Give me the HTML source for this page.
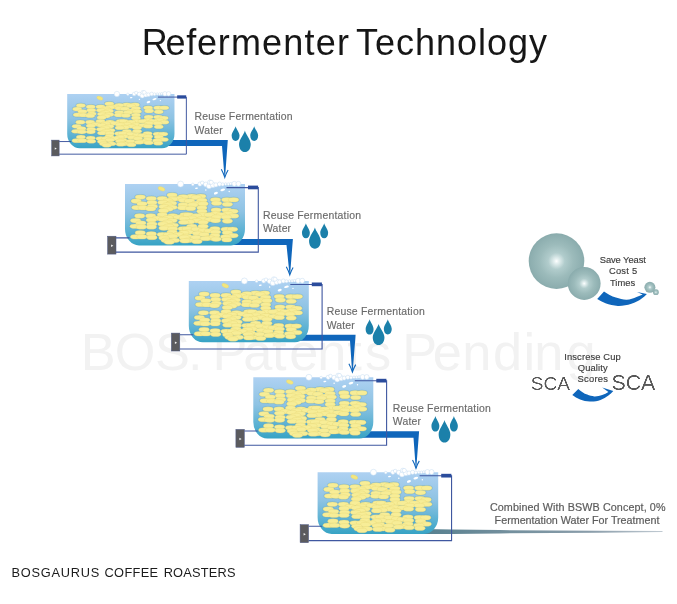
<!DOCTYPE html>
<html lang="en">
<head>
<meta charset="utf-8">
<title>Refermenter Technology</title>
<style>
html,body{margin:0;padding:0;background:#fff;}
body{width:677px;height:604px;overflow:hidden;font-family:"Liberation Sans", sans-serif;}
svg{display:block;}
text{font-family:"Liberation Sans", sans-serif;}
</style>
</head>
<body>
<svg width="677" height="604" viewBox="0 0 677 604">
<defs>
<linearGradient id="gw" x1="0" y1="0" x2="0" y2="1">
<stop offset="0" stop-color="#aed1f2"/>
<stop offset="0.45" stop-color="#8ec3e3"/>
<stop offset="0.8" stop-color="#57b0d1"/>
<stop offset="1" stop-color="#37a3c4"/>
</linearGradient>
<radialGradient id="gb" cx="0.5" cy="0.5" r="0.5">
<stop offset="0" stop-color="#ffffff"/>
<stop offset="0.08" stop-color="#e6f1f1"/>
<stop offset="0.3" stop-color="#b1cccc"/>
<stop offset="0.6" stop-color="#9cbbbb"/>
<stop offset="0.92" stop-color="#8eafb0"/>
<stop offset="1" stop-color="#89abac"/>
</radialGradient>
<linearGradient id="go" x1="0" y1="0" x2="1" y2="0">
<stop offset="0" stop-color="#56808f"/>
<stop offset="0.3" stop-color="#6f8d9b"/>
<stop offset="0.7" stop-color="#8a9daa"/>
<stop offset="1" stop-color="#c0cad2"/>
</linearGradient>
<filter id="thin3" x="-5%" y="-10%" width="110%" height="120%" color-interpolation-filters="sRGB"><feGaussianBlur stdDeviation="0.4"/><feComponentTransfer><feFuncA type="linear" slope="2" intercept="-0.6"/></feComponentTransfer></filter>
<g id="bn">
<ellipse cx="47.1" cy="11.1" rx="5.25" ry="2.28"/>
<ellipse cx="66.8" cy="12.2" rx="5.25" ry="2.28"/>
<ellipse cx="75.8" cy="12.2" rx="5.25" ry="2.28"/>
<ellipse cx="58.2" cy="12.8" rx="5.25" ry="2.28"/>
<ellipse cx="15.3" cy="13.1" rx="5.25" ry="2.28"/>
<ellipse cx="71.3" cy="13.4" rx="5.25" ry="2.28"/>
<ellipse cx="26.3" cy="14.5" rx="5.25" ry="2.28"/>
<ellipse cx="37.3" cy="14.5" rx="5.25" ry="2.28"/>
<ellipse cx="52.9" cy="14.5" rx="5.25" ry="2.28"/>
<ellipse cx="47.7" cy="15.1" rx="5.25" ry="2.28"/>
<ellipse cx="90.5" cy="15.7" rx="5.25" ry="2.28"/>
<ellipse cx="101.8" cy="15.7" rx="5.25" ry="2.28"/>
<ellipse cx="108.6" cy="15.7" rx="5.25" ry="2.28"/>
<ellipse cx="58.7" cy="16.3" rx="5.25" ry="2.28"/>
<ellipse cx="76.9" cy="16.3" rx="5.25" ry="2.28"/>
<ellipse cx="43.1" cy="16.9" rx="5.25" ry="2.28"/>
<ellipse cx="64.5" cy="16.9" rx="5.25" ry="2.28"/>
<ellipse cx="11.2" cy="17.1" rx="5.25" ry="2.28"/>
<ellipse cx="26.9" cy="18.6" rx="5.25" ry="2.28"/>
<ellipse cx="37.9" cy="18.6" rx="5.25" ry="2.28"/>
<ellipse cx="46.6" cy="19.2" rx="5.25" ry="2.28"/>
<ellipse cx="71.9" cy="19.2" rx="5.25" ry="2.28"/>
<ellipse cx="91.6" cy="19.2" rx="5.25" ry="2.28"/>
<ellipse cx="17.0" cy="19.8" rx="5.25" ry="2.28"/>
<ellipse cx="78.1" cy="19.8" rx="5.25" ry="2.28"/>
<ellipse cx="102.4" cy="20.3" rx="5.25" ry="2.28"/>
<ellipse cx="42.5" cy="20.9" rx="5.25" ry="2.28"/>
<ellipse cx="58.2" cy="20.9" rx="5.25" ry="2.28"/>
<ellipse cx="67.9" cy="20.9" rx="5.25" ry="2.28"/>
<ellipse cx="27.4" cy="22.4" rx="5.25" ry="2.28"/>
<ellipse cx="39.0" cy="22.7" rx="5.25" ry="2.28"/>
<ellipse cx="47.1" cy="23.2" rx="5.25" ry="2.28"/>
<ellipse cx="11.8" cy="23.6" rx="5.25" ry="2.28"/>
<ellipse cx="18.2" cy="23.8" rx="5.25" ry="2.28"/>
<ellipse cx="57.6" cy="23.8" rx="5.25" ry="2.28"/>
<ellipse cx="76.9" cy="23.8" rx="5.25" ry="2.28"/>
<ellipse cx="65.6" cy="24.4" rx="5.25" ry="2.28"/>
<ellipse cx="25.7" cy="24.7" rx="5.25" ry="2.28"/>
<ellipse cx="43.1" cy="25.0" rx="5.25" ry="2.28"/>
<ellipse cx="91.1" cy="26.1" rx="5.25" ry="2.28"/>
<ellipse cx="101.8" cy="26.1" rx="5.25" ry="2.28"/>
<ellipse cx="38.5" cy="26.7" rx="5.25" ry="2.28"/>
<ellipse cx="76.9" cy="27.3" rx="5.25" ry="2.28"/>
<ellipse cx="108.0" cy="27.3" rx="5.25" ry="2.28"/>
<ellipse cx="90.5" cy="29.6" rx="5.25" ry="2.28"/>
<ellipse cx="102.9" cy="29.6" rx="5.25" ry="2.28"/>
<ellipse cx="37.3" cy="30.8" rx="5.25" ry="2.28"/>
<ellipse cx="59.9" cy="30.8" rx="5.25" ry="2.28"/>
<ellipse cx="63.4" cy="30.8" rx="5.25" ry="2.28"/>
<ellipse cx="78.1" cy="30.8" rx="5.25" ry="2.28"/>
<ellipse cx="84.3" cy="30.8" rx="5.25" ry="2.28"/>
<ellipse cx="96.2" cy="30.8" rx="5.25" ry="2.28"/>
<ellipse cx="14.7" cy="31.9" rx="5.25" ry="2.28"/>
<ellipse cx="25.7" cy="31.9" rx="5.25" ry="2.28"/>
<ellipse cx="47.7" cy="31.9" rx="5.25" ry="2.28"/>
<ellipse cx="71.3" cy="31.9" rx="5.25" ry="2.28"/>
<ellipse cx="108.6" cy="31.9" rx="5.25" ry="2.28"/>
<ellipse cx="53.5" cy="33.1" rx="5.25" ry="2.28"/>
<ellipse cx="91.6" cy="33.1" rx="5.25" ry="2.28"/>
<ellipse cx="101.2" cy="33.1" rx="5.25" ry="2.28"/>
<ellipse cx="43.1" cy="33.7" rx="5.25" ry="2.28"/>
<ellipse cx="32.1" cy="34.2" rx="5.25" ry="2.28"/>
<ellipse cx="66.8" cy="34.2" rx="5.25" ry="2.28"/>
<ellipse cx="59.3" cy="34.8" rx="5.25" ry="2.28"/>
<ellipse cx="76.9" cy="34.8" rx="5.25" ry="2.28"/>
<ellipse cx="38.5" cy="35.4" rx="5.25" ry="2.28"/>
<ellipse cx="84.9" cy="35.4" rx="5.25" ry="2.28"/>
<ellipse cx="26.3" cy="36.0" rx="5.25" ry="2.28"/>
<ellipse cx="10.6" cy="36.6" rx="5.25" ry="2.28"/>
<ellipse cx="47.1" cy="36.6" rx="5.25" ry="2.28"/>
<ellipse cx="71.9" cy="36.6" rx="5.25" ry="2.28"/>
<ellipse cx="90.5" cy="36.6" rx="5.25" ry="2.28"/>
<ellipse cx="102.4" cy="37.1" rx="5.25" ry="2.28"/>
<ellipse cx="64.5" cy="37.7" rx="5.25" ry="2.28"/>
<ellipse cx="42.5" cy="38.3" rx="5.25" ry="2.28"/>
<ellipse cx="58.7" cy="38.3" rx="5.25" ry="2.28"/>
<ellipse cx="78.1" cy="38.3" rx="5.25" ry="2.28"/>
<ellipse cx="15.9" cy="39.1" rx="5.25" ry="2.28"/>
<ellipse cx="26.9" cy="40.0" rx="5.25" ry="2.28"/>
<ellipse cx="37.9" cy="40.0" rx="5.25" ry="2.28"/>
<ellipse cx="48.3" cy="41.2" rx="5.25" ry="2.28"/>
<ellipse cx="10.1" cy="42.3" rx="5.25" ry="2.28"/>
<ellipse cx="43.7" cy="42.3" rx="5.25" ry="2.28"/>
<ellipse cx="66.8" cy="42.3" rx="5.25" ry="2.28"/>
<ellipse cx="78.1" cy="42.3" rx="5.25" ry="2.28"/>
<ellipse cx="16.4" cy="42.9" rx="5.25" ry="2.28"/>
<ellipse cx="26.3" cy="42.9" rx="5.25" ry="2.28"/>
<ellipse cx="39.0" cy="44.1" rx="5.25" ry="2.28"/>
<ellipse cx="47.7" cy="44.7" rx="5.25" ry="2.28"/>
<ellipse cx="58.2" cy="44.7" rx="5.25" ry="2.28"/>
<ellipse cx="62.3" cy="44.7" rx="5.25" ry="2.28"/>
<ellipse cx="89.9" cy="44.7" rx="5.25" ry="2.28"/>
<ellipse cx="71.3" cy="45.2" rx="5.25" ry="2.28"/>
<ellipse cx="101.2" cy="45.2" rx="5.25" ry="2.28"/>
<ellipse cx="107.5" cy="45.2" rx="5.25" ry="2.28"/>
<ellipse cx="78.6" cy="46.4" rx="5.25" ry="2.28"/>
<ellipse cx="84.3" cy="47.0" rx="5.25" ry="2.28"/>
<ellipse cx="47.1" cy="48.1" rx="5.25" ry="2.28"/>
<ellipse cx="63.4" cy="48.1" rx="5.25" ry="2.28"/>
<ellipse cx="90.5" cy="48.1" rx="5.25" ry="2.28"/>
<ellipse cx="15.3" cy="48.7" rx="5.25" ry="2.28"/>
<ellipse cx="58.7" cy="48.7" rx="5.25" ry="2.28"/>
<ellipse cx="102.4" cy="48.7" rx="5.25" ry="2.28"/>
<ellipse cx="72.4" cy="49.3" rx="5.25" ry="2.28"/>
<ellipse cx="26.3" cy="49.9" rx="5.25" ry="2.28"/>
<ellipse cx="37.3" cy="50.5" rx="5.25" ry="2.28"/>
<ellipse cx="43.7" cy="50.5" rx="5.25" ry="2.28"/>
<ellipse cx="53.5" cy="50.5" rx="5.25" ry="2.28"/>
<ellipse cx="79.2" cy="50.5" rx="5.25" ry="2.28"/>
<ellipse cx="89.9" cy="51.6" rx="5.25" ry="2.28"/>
<ellipse cx="108.0" cy="51.6" rx="5.25" ry="2.28"/>
<ellipse cx="47.7" cy="52.2" rx="5.25" ry="2.28"/>
<ellipse cx="61.7" cy="52.2" rx="5.25" ry="2.28"/>
<ellipse cx="10.6" cy="52.8" rx="5.25" ry="2.28"/>
<ellipse cx="17.0" cy="52.8" rx="5.25" ry="2.28"/>
<ellipse cx="100.7" cy="52.8" rx="5.25" ry="2.28"/>
<ellipse cx="26.9" cy="53.4" rx="5.25" ry="2.28"/>
<ellipse cx="59.3" cy="53.4" rx="5.25" ry="2.28"/>
<ellipse cx="70.7" cy="53.4" rx="5.25" ry="2.28"/>
<ellipse cx="39.0" cy="53.9" rx="5.25" ry="2.28"/>
<ellipse cx="84.9" cy="53.9" rx="5.25" ry="2.28"/>
<ellipse cx="80.3" cy="54.5" rx="5.25" ry="2.28"/>
<ellipse cx="91.1" cy="55.1" rx="5.25" ry="2.28"/>
<ellipse cx="101.8" cy="55.7" rx="5.25" ry="2.28"/>
<ellipse cx="41.3" cy="56.3" rx="5.25" ry="2.28"/>
<ellipse cx="49.5" cy="56.3" rx="5.25" ry="2.28"/>
<ellipse cx="63.4" cy="56.3" rx="5.25" ry="2.28"/>
<ellipse cx="59.9" cy="56.8" rx="5.25" ry="2.28"/>
<ellipse cx="71.9" cy="57.4" rx="5.25" ry="2.28"/>
<ellipse cx="44.2" cy="58.0" rx="5.25" ry="2.28"/>
</g>
<g id="tk">
<path d="M0 0H120V44.9A14 16.5 0 0 1 106 61.4H14A14 16.5 0 0 1 0 44.9Z" fill="url(#gw)"/>
<path d="M-9 53.85H4.5M-9 68.1H133.3V3.6H101.5" fill="none" stroke="#3f57a0" stroke-width="1.1"/>
<rect x="123" y="1.6" width="10.1" height="3.7" fill="#2b4c9c"/>
<rect x="-17.4" y="52.2" width="8.4" height="17.9" fill="#5b5b5e" stroke="#4b5784" stroke-width="0.5"/>
<path d="M-13.9 60.5l2.2 1.25l-2.2 1.25z" fill="#f4f4f4"/>
<ellipse cx="36.5" cy="4.8" rx="3.6" ry="1.9" transform="rotate(22 36.5 4.8)" fill="#f4e67f" stroke="#e3d46a" stroke-width="0.3"/>
<use href="#bn" fill="none" stroke="#3c98d4" stroke-opacity="0.38" stroke-width="1.5"/>
<use href="#bn" fill="#f7ed97" stroke="#e6d878" stroke-width="0.38"/>
<g fill="#fff" stroke="#c3daf0" stroke-width="0.5">
<circle cx="55.6" cy="0.1" r="3.01"/>
<circle cx="67.8" cy="0.4" r="1.32"/>
<circle cx="74.9" cy="0.1" r="2.08"/>
<circle cx="77.2" cy="-1.1" r="1.82"/>
<circle cx="80.8" cy="0.4" r="2.33"/>
<circle cx="84" cy="2.1" r="2.58"/>
<circle cx="84.9" cy="-1.7" r="2.33"/>
<circle cx="87.9" cy="0.9" r="2.58"/>
<circle cx="86.2" cy="-1.7" r="2.08"/>
<circle cx="90.9" cy="0.9" r="2.08"/>
<circle cx="94.5" cy="0.1" r="2.08"/>
<circle cx="97.7" cy="0.4" r="1.57"/>
<circle cx="100.7" cy="0.1" r="1.32"/>
<circle cx="103.3" cy="0.1" r="1.32"/>
<circle cx="105.7" cy="-0.2" r="1.32"/>
<circle cx="109.3" cy="-0.2" r="2.45"/>
<circle cx="113.4" cy="-0.2" r="2.45"/>
</g><g fill="#fff">
<ellipse cx="71.6" cy="4.3" rx="1.5" ry="0.7" transform="rotate(-8 71.6 4.3)"/>
<ellipse cx="80.8" cy="6.1" rx="0.75" ry="0.75" transform="rotate(0 80.8 6.1)"/>
<ellipse cx="97.7" cy="5.9" rx="2.4" ry="1.1" transform="rotate(-15 97.7 5.9)"/>
<ellipse cx="90.9" cy="9.2" rx="2.1" ry="1.2" transform="rotate(-20 90.9 9.2)"/>
<ellipse cx="104.2" cy="7.5" rx="0.7" ry="0.7" transform="rotate(0 104.2 7.5)"/>
</g>
</g>
</defs>
<rect width="677" height="604" fill="#fff"/>
<g opacity="0.999">

<text x="80.7 114.7 155.1 187.9 203 212.5 243.3 271.9 289.3 317.2 347.3 364.9 392 402.2 432.8 462.2 493 523.6 534.2 566.5" y="370.2" font-size="52.3" fill="#f2f2f2">BOS. Patents Pending</text>
<text x="141.8" y="54.9" font-size="36" fill="#161616"><tspan letter-spacing="0.71" dx="0 -3 0 0 0 0.6 0.4 0.5 0.5 0.5 0.5">Refermenter</tspan><tspan letter-spacing="1.0" dx="-4.1"> Technology</tspan></text>
<text y="577.2" font-size="12.8" fill="#1c1c1c"><tspan x="11.6" letter-spacing="0.74">BOSGAURUS </tspan><tspan x="104.5" letter-spacing="0.35">COFFEE </tspan><tspan x="163.7" letter-spacing="0.19">ROASTERS</tspan></text>
<path d="M422 528.9L452 529.4L500 530.1L600 530.7L662.5 531.1L662.5 532L600 532.8L500 533.4L452 533.9L422 534.1Z" fill="url(#go)"/>
<path d="M160 139.9H227.8L225.15 176.30L224.80 177.80L224.45 176.30L222 145.9H160Z" fill="#0f66bb"/><path d="M221.30 169.20Q223.50 173.20 224.80 177.40Q226.10 173.40 228.10 170.00" fill="none" stroke="#0f66bb" stroke-width="1.1" stroke-linejoin="miter" stroke-miterlimit="10"/>
<path d="M230 238.9H292.9L290.15 273.80L289.80 275.30L289.45 273.80L286.5 244.9H230Z" fill="#0f66bb"/><path d="M286.30 266.70Q288.50 270.70 289.80 274.90Q291.10 270.90 293.10 267.50" fill="none" stroke="#0f66bb" stroke-width="1.1" stroke-linejoin="miter" stroke-miterlimit="10"/>
<path d="M295 334.7H355.6L352.75 370.90L352.40 372.40L352.05 370.90L350.0 340.7H295Z" fill="#0f66bb"/><path d="M348.90 363.80Q351.10 367.80 352.40 372.00Q353.70 368.00 355.70 364.60" fill="none" stroke="#0f66bb" stroke-width="1.1" stroke-linejoin="miter" stroke-miterlimit="10"/>
<path d="M360 431.3H419.1L416.35 467.20L416.00 468.70L415.65 467.20L413.5 437.8H360Z" fill="#0f66bb"/><path d="M412.50 460.10Q414.70 464.10 416.00 468.30Q417.30 464.30 419.30 460.90" fill="none" stroke="#0f66bb" stroke-width="1.1" stroke-linejoin="miter" stroke-miterlimit="10"/>
<use href="#tk" transform="translate(67.2,93.9) scale(0.894 0.885)"/>
<use href="#tk" transform="translate(125,184) scale(1)"/>
<use href="#tk" transform="translate(188.8,280.9) scale(1)"/>
<use href="#tk" transform="translate(253.3,377.2) scale(1)"/>
<use href="#tk" transform="translate(317.6,472.2) scale(1.005)"/>
<text x="194.6" y="120.3" font-size="10.45" fill="#6a6a6a" stroke="#6a6a6a" stroke-width="0.15" textLength="98" lengthAdjust="spacing">Reuse Fermentation</text><text x="194.6" y="133.9" font-size="10.45" fill="#6a6a6a" stroke="#6a6a6a" stroke-width="0.15" textLength="28.1" lengthAdjust="spacing">Water</text>
<path d="M235.6 126.20C236.07 128.57 239.55 132.42 239.55 135.52C239.55 138.93 237.89 141.00 235.6 141.00C233.31 141.00 231.65 138.93 231.65 135.52C231.65 132.42 235.13 128.57 235.6 126.20Z" fill="#1b80aa"/><path d="M244.9 130.40C245.60 133.87 250.75 139.51 250.75 144.07C250.75 149.06 248.29 152.10 244.9 152.10C241.51 152.10 239.05 149.06 239.05 144.07C239.05 139.51 244.20 133.87 244.9 130.40Z" fill="#1b80aa"/><path d="M254.2 126.20C254.67 128.55 258.15 132.37 258.15 135.46C258.15 138.84 256.49 140.90 254.2 140.90C251.91 140.90 250.25 138.84 250.25 135.46C250.25 132.37 253.73 128.55 254.2 126.20Z" fill="#1b80aa"/>
<text x="263.0" y="218.7" font-size="10.45" fill="#6a6a6a" stroke="#6a6a6a" stroke-width="0.15" textLength="98" lengthAdjust="spacing">Reuse Fermentation</text><text x="263.0" y="232.3" font-size="10.45" fill="#6a6a6a" stroke="#6a6a6a" stroke-width="0.15" textLength="28.1" lengthAdjust="spacing">Water</text>
<path d="M305.9 223.30C306.37 225.70 309.85 229.60 309.85 232.75C309.85 236.20 308.19 238.30 305.9 238.30C303.61 238.30 301.95 236.20 301.95 232.75C301.95 229.60 305.43 225.70 305.9 223.30Z" fill="#1b80aa"/><path d="M314.9 227.40C315.60 230.81 320.75 236.35 320.75 240.82C320.75 245.72 318.29 248.70 314.9 248.70C311.51 248.70 309.05 245.72 309.05 240.82C309.05 236.35 314.20 230.81 314.9 227.40Z" fill="#1b80aa"/><path d="M324.2 223.30C324.67 225.68 328.15 229.56 328.15 232.69C328.15 236.11 326.49 238.20 324.2 238.20C321.91 238.20 320.25 236.11 320.25 232.69C320.25 229.56 323.73 225.68 324.2 223.30Z" fill="#1b80aa"/>
<text x="326.7" y="314.9" font-size="10.45" fill="#6a6a6a" stroke="#6a6a6a" stroke-width="0.15" textLength="98" lengthAdjust="spacing">Reuse Fermentation</text><text x="326.7" y="328.5" font-size="10.45" fill="#6a6a6a" stroke="#6a6a6a" stroke-width="0.15" textLength="28.1" lengthAdjust="spacing">Water</text>
<path d="M369.6 319.20C370.07 321.66 373.55 325.67 373.55 328.90C373.55 332.44 371.89 334.60 369.6 334.60C367.31 334.60 365.65 332.44 365.65 328.90C365.65 325.67 369.13 321.66 369.6 319.20Z" fill="#1b80aa"/><path d="M378.6 324.10C379.30 327.46 384.45 332.92 384.45 337.33C384.45 342.16 381.99 345.10 378.6 345.10C375.21 345.10 372.75 342.16 372.75 337.33C372.75 332.92 377.90 327.46 378.6 324.10Z" fill="#1b80aa"/><path d="M387.8 319.20C388.27 321.65 391.75 325.63 391.75 328.84C391.75 332.36 390.09 334.50 387.8 334.50C385.51 334.50 383.85 332.36 383.85 328.84C383.85 325.63 387.33 321.65 387.8 319.20Z" fill="#1b80aa"/>
<text x="392.8" y="411.7" font-size="10.45" fill="#6a6a6a" stroke="#6a6a6a" stroke-width="0.15" textLength="98" lengthAdjust="spacing">Reuse Fermentation</text><text x="392.8" y="425.3" font-size="10.45" fill="#6a6a6a" stroke="#6a6a6a" stroke-width="0.15" textLength="28.1" lengthAdjust="spacing">Water</text>
<path d="M435.4 415.90C435.87 418.41 439.35 422.49 439.35 425.79C439.35 429.40 437.69 431.60 435.4 431.60C433.11 431.60 431.45 429.40 431.45 425.79C431.45 422.49 434.93 418.41 435.4 415.90Z" fill="#1b80aa"/><path d="M444.5 420.10C445.20 423.68 450.35 429.51 450.35 434.21C450.35 439.36 447.89 442.50 444.5 442.50C441.11 442.50 438.65 439.36 438.65 434.21C438.65 429.51 443.80 423.68 444.5 420.10Z" fill="#1b80aa"/><path d="M453.9 415.90C454.37 418.40 457.85 422.45 457.85 425.73C457.85 429.32 456.19 431.50 453.9 431.50C451.61 431.50 449.95 429.32 449.95 425.73C449.95 422.45 453.43 418.40 453.9 415.90Z" fill="#1b80aa"/>
<g font-size="10.75" fill="#5c5c5c" stroke="#5c5c5c" stroke-width="0.2"><text x="489.9" y="510.6" textLength="175.6" lengthAdjust="spacing">Combined With BSWB Concept, 0%</text><text x="494.6" y="523.6" textLength="164.8" lengthAdjust="spacing">Fermentation Water For Treatment</text></g>
<circle cx="556.5" cy="261.1" r="27.8" fill="url(#gb)"/>
<circle cx="584.2" cy="283.5" r="16.4" fill="url(#gb)"/>
<circle cx="655.9" cy="292.2" r="2.9" fill="url(#gb)"/>
<circle cx="649.9" cy="287.3" r="5.5" fill="url(#gb)"/>
<path d="M604 291.4C607.5 294 611.5 296.2 615.9 297.6C619.5 298.8 623 299.6 626.2 299.7C630 299.8 633.5 298.6 636.5 297.1C638.8 296.1 640.8 295.2 642.7 294.4L637 291.9L646.9 294C645.2 295.9 643.6 297.4 641.7 298.6C638.6 300.9 635.2 302.7 631.4 303.8C627 305.3 622.5 306 617.9 305.9C613.5 305.7 609.4 304.8 605.5 303.3C602.5 302.1 599.7 300.7 597.2 299.1Z" fill="#0f66bb"/>
<g font-size="9.4" fill="#3c3c3c" stroke="#3c3c3c" stroke-width="0.15"><text x="599.7" y="262.5" textLength="46.2" lengthAdjust="spacing">Save Yeast</text><text x="608.9" y="274.3" textLength="28.2" lengthAdjust="spacing">Cost 5</text><text x="609.9" y="285.8" textLength="25.4" lengthAdjust="spacing">Times</text></g>
<text x="530.8" y="390.2" font-size="19.1" fill="#595959" filter="url(#thin3)">SCA</text>
<text x="611.4" y="390.1" font-size="21.4" fill="#595959" filter="url(#thin3)">SCA</text>
<path d="M578.3 388.9C581 391.3 584 393.4 587.2 394.6C589.5 395.6 591.9 396.3 594.3 396.4C597 396.5 599.8 396 602.2 395.1C604.5 394.3 606.5 393.2 608.4 392L602.2 387.5L613.3 391.1C611.7 392.9 610.2 394.3 608.4 395.5C606 397.4 603.4 398.9 600.5 400C597 401.2 593.5 401.7 589.8 401.5C586.4 401.4 583.1 400.7 580.1 399.5C577.2 398.3 574.6 396.8 572.3 395.1Z" fill="#0f66bb"/>
<g font-size="9.4" fill="#3c3c3c" stroke="#3c3c3c" stroke-width="0.15"><text x="564.3" y="359.7" textLength="56.4" lengthAdjust="spacing">Inscrese Cup</text><text x="577.7" y="370.9" textLength="30" lengthAdjust="spacing">Quality</text><text x="577.4" y="382.3" textLength="30.6" lengthAdjust="spacing">Scores</text></g>
</g>
</svg>
</body>
</html>
